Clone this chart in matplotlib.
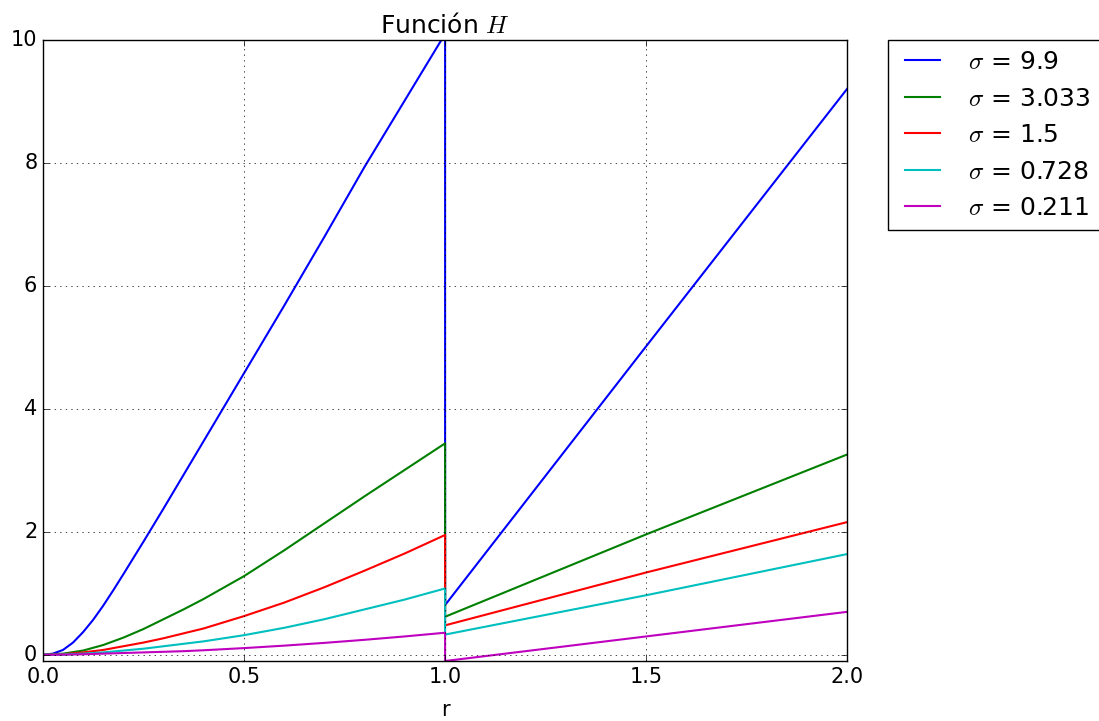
import numpy as np
import matplotlib
matplotlib.use("Agg")
import matplotlib.pyplot as plt

plt.style.use('classic')
plt.rcParams['font.size'] = 15
plt.rcParams['mathtext.fontset'] = 'cm'

# tramo r < 1 (sigma = 9.9 con mas puntos)
r_azul = [0.0, 0.025, 0.05, 0.075, 0.1, 0.125, 0.15, 0.175, 0.2, 0.25, 0.3,
          0.35, 0.4, 0.45, 0.5, 0.6, 0.7, 0.8, 0.9, 1.0]
r_izq = [0.0, 0.05, 0.1, 0.15, 0.2, 0.25, 0.3, 0.35, 0.4, 0.5, 0.6, 0.7, 0.8, 0.9, 1.0]
# tramo r > 1
r_der = [1.0, 1.5, 2.0]

sigmas = ['9.9', '3.033', '1.5', '0.728', '0.211']
colores = ['b', 'g', 'r', 'c', 'm']

H_izq_99 = [0.0, 0.02, 0.08, 0.20, 0.37, 0.57, 0.80, 1.05, 1.31, 1.84, 2.38,
            2.93, 3.48, 4.03, 4.58, 5.68, 6.80, 7.94, 9.02, 10.1]
H_izq_3033 = [0.0, 0.02, 0.07, 0.16, 0.28, 0.42, 0.58, 0.74, 0.91, 1.28, 1.70, 2.14, 2.58, 3.01, 3.44]
H_izq_15 = [0.0, 0.01, 0.04, 0.08, 0.14, 0.20, 0.27, 0.35, 0.43, 0.63, 0.85, 1.10, 1.37, 1.65, 1.95]
H_izq_0728 = [0.0, 0.005, 0.02, 0.04, 0.07, 0.10, 0.14, 0.18, 0.22, 0.32, 0.44, 0.58, 0.74, 0.90, 1.08]
H_izq_0211 = [0.0, 0.003, 0.01, 0.02, 0.03, 0.04, 0.05, 0.06, 0.075, 0.11, 0.15, 0.195, 0.245, 0.30, 0.36]

H_der_99 = [0.81, 5.02, 9.21]
H_der_3033 = [0.62, 1.96, 3.26]
H_der_15 = [0.48, 1.34, 2.16]
H_der_0728 = [0.33, 0.97, 1.64]
H_der_0211 = [-0.10, 0.30, 0.70]

izq = [H_izq_99, H_izq_3033, H_izq_15, H_izq_0728, H_izq_0211]
der = [H_der_99, H_der_3033, H_der_15, H_der_0728, H_der_0211]

fig = plt.figure(figsize=(10.99, 7.21), dpi=100)
ax = fig.add_axes([0.039, 0.0832, 0.732, 0.8613])

for i in range(len(sigmas)):
    rx = r_azul if i == 0 else r_izq
    x = list(rx) + r_der
    y = list(izq[i]) + der[i]
    ax.plot(x, y, color=colores[i], lw=1.5, label=r'$\sigma$ = ' + sigmas[i])

ax.set_xlim(0, 2)
ax.set_ylim(-0.1, 10)
ax.set_xticks([0.0, 0.5, 1.0, 1.5, 2.0])
ax.set_yticks([0, 2, 4, 6, 8, 10])
ax.grid(True)
ax.set_xlabel('r', labelpad=10)
ax.set_title(u'Función $H$')
ax.legend(bbox_to_anchor=(1.05, 1), loc=2, borderaxespad=0.)

fig.savefig('out.png', dpi=100)
